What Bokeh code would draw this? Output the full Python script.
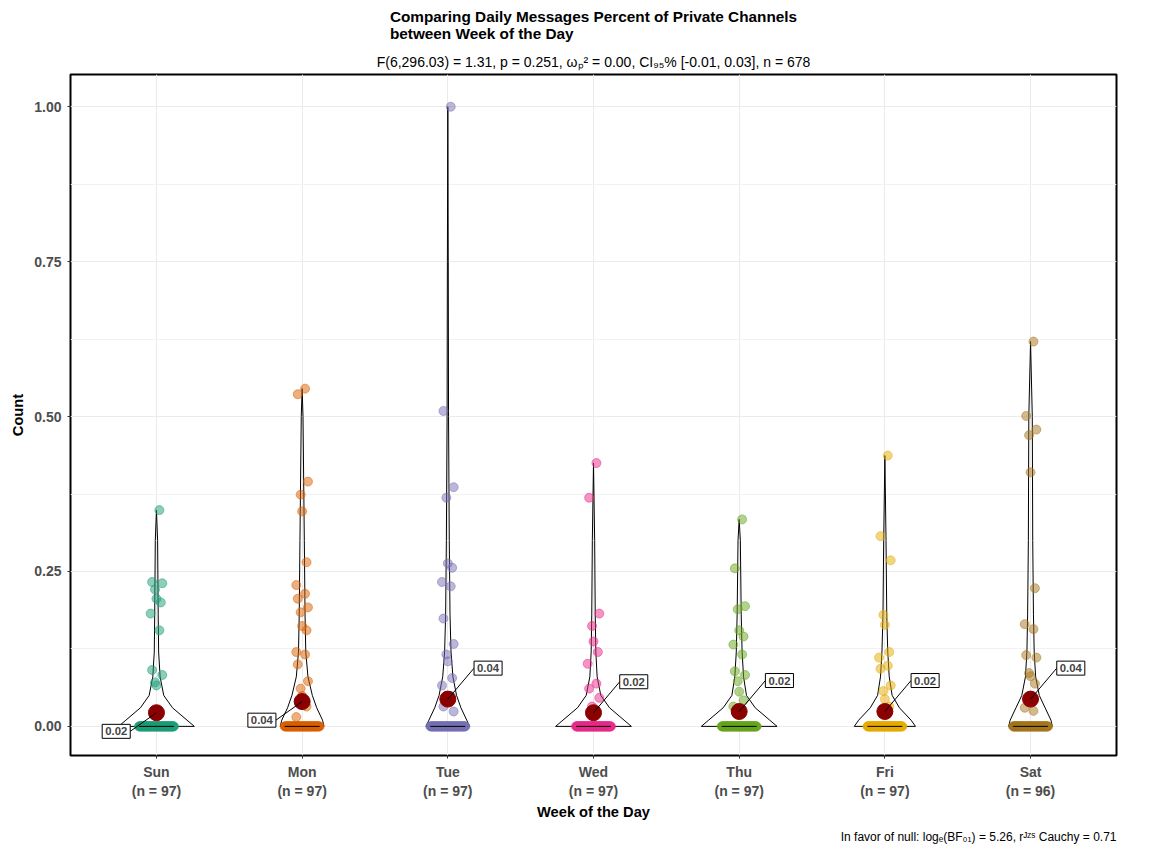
import numpy as np
from bokeh.plotting import figure
from bokeh.models import Title, Label, FixedTicker
from bokeh.embed import file_html
from bokeh.resources import INLINE

days = ['Sun', 'Mon', 'Tue', 'Wed', 'Thu', 'Fri', 'Sat']
counts = [97, 97, 97, 97, 97, 97, 96]
colors = ['#1B9E77', '#D95F02', '#7570B3', '#E7298A', '#66A61E', '#E6AB02', '#A6761D']
means = [0.022, 0.040, 0.044, 0.022, 0.024, 0.024, 0.044]
mean_labels = ['0.02', '0.04', '0.04', '0.02', '0.02', '0.02', '0.04']

# non-zero observations per day (the rest are zeros)
vals = {
    'Sun': [0.349, 0.233, 0.231, 0.221, 0.206, 0.200, 0.182, 0.155, 0.091, 0.083, 0.071, 0.066],
    'Mon': [0.545, 0.536, 0.395, 0.374, 0.347, 0.265, 0.228, 0.214, 0.206, 0.192, 0.184,
            0.162, 0.155, 0.120, 0.116, 0.100, 0.073, 0.061, 0.049, 0.032, 0.015],
    'Tue': [1.000, 0.509, 0.386, 0.369, 0.263, 0.256, 0.233, 0.226, 0.174, 0.133, 0.116,
            0.105, 0.078, 0.066, 0.049, 0.032, 0.024],
    'Wed': [0.425, 0.369, 0.182, 0.162, 0.137, 0.120, 0.101, 0.069, 0.061, 0.046, 0.032],
    'Thu': [0.334, 0.255, 0.194, 0.189, 0.155, 0.145, 0.132, 0.116, 0.089, 0.083, 0.073,
            0.056, 0.042, 0.032],
    'Fri': [0.437, 0.307, 0.268, 0.180, 0.164, 0.120, 0.111, 0.098, 0.093, 0.066, 0.057,
            0.044, 0.032],
    'Sat': [0.621, 0.501, 0.479, 0.470, 0.410, 0.223, 0.165, 0.157, 0.115, 0.111, 0.086,
            0.081, 0.069, 0.030, 0.025],
}

# violin profile: levels and half-widths (in category units) per day
vlevels = [0.0, 0.01, 0.03, 0.05, 0.08, 0.12, 0.18, 0.3, 0.5, 0.75, 1.0]
vwidth = {
    'Sun': [0.26, 0.21, 0.11, 0.05, 0.025, 0.015, 0.012, 0.008, 0, 0, 0],
    'Mon': [0.15, 0.14, 0.10, 0.07, 0.04, 0.025, 0.02, 0.015, 0.006, 0, 0],
    'Tue': [0.15, 0.13, 0.09, 0.06, 0.035, 0.022, 0.015, 0.01, 0.005, 0.003, 0.002],
    'Wed': [0.26, 0.21, 0.11, 0.05, 0.025, 0.016, 0.012, 0.008, 0.004, 0, 0],
    'Thu': [0.26, 0.21, 0.11, 0.05, 0.03, 0.02, 0.014, 0.008, 0, 0, 0],
    'Fri': [0.21, 0.18, 0.10, 0.05, 0.03, 0.02, 0.013, 0.008, 0.004, 0, 0],
    'Sat': [0.15, 0.14, 0.10, 0.06, 0.035, 0.025, 0.02, 0.015, 0.012, 0.004, 0],
}

FONT = 'Liberation Sans'

p = figure(width=1136, height=848, x_range=(0.41, 7.59), y_range=(-0.047, 1.052),
           output_backend='svg', toolbar_location=None,
           background_fill_color='white', border_fill_color='white',
           min_border_left=70, min_border_right=20, min_border_bottom=10)
p.title = None
p.outline_line_color = 'black'
p.outline_line_width = 2

for i, d in enumerate(days):
    x0 = i + 1
    top = max(vals[d])
    lv = [l for l in vlevels if l < top] + [top]
    w = vwidth[d][:len(lv) - 1] + [0.0]
    xs = [x0 - a for a in w] + [x0 + a for a in w[::-1]]
    ys = lv + lv[::-1]
    p.patch(xs, ys, fill_color=None, line_color='black', line_width=1)
    nz = counts[i] - len(vals[d])
    jz = np.linspace(-0.12, 0.12, nz)
    jv = np.tile([0.02, -0.03, 0.04, -0.01, 0.0, 0.03, -0.04], 5)[:len(vals[d])]
    px = list(x0 + jz) + list(x0 + jv)
    py = [0.0] * nz + vals[d]
    p.scatter(px, py, size=9, fill_color=colors[i], line_color=colors[i], alpha=0.5)
    p.segment(x0 - 0.12, 0, x0 + 0.12, 0, line_color='black', line_width=1)
    p.scatter([x0], [means[i]], size=16, color='#8B0000')
    if i < 2:
        lx, ly, dx = x0 - 0.18, means[i] - 0.03, 'right'
    else:
        lx, ly, dx = x0 + 0.18, means[i] + 0.05, 'left'
    p.segment([x0], [means[i]], [lx], [ly], line_color='black', line_width=1)
    p.add_layout(Label(x=lx, y=ly, text=mean_labels[i], text_font=FONT,
                       text_font_size='8.5pt', text_font_style='bold', text_align=dx,
                       text_baseline='middle', background_fill_color='white',
                       border_line_color='black', border_line_width=1, padding=3))

p.xaxis.ticker = FixedTicker(ticks=list(range(1, 8)))
p.xaxis.major_label_overrides = {i + 1: f'{d}\n(n = {n})' for i, (d, n) in enumerate(zip(days, counts))}
p.yaxis.ticker = FixedTicker(ticks=[0, 0.25, 0.5, 0.75, 1.0],
                             minor_ticks=[0.125, 0.375, 0.625, 0.875])
p.yaxis.major_label_overrides = {0: '0.00', 0.25: '0.25', 0.5: '0.50', 0.75: '0.75', 1.0: '1.00'}
p.xaxis.axis_label = 'Week of the Day'
p.yaxis.axis_label = 'Count'
for ax in (p.xaxis, p.yaxis):
    ax.axis_line_color = None
    ax.minor_tick_line_color = None
    ax.major_tick_line_color = '#333333'
    ax.major_tick_out = 3
    ax.major_tick_in = 0
    ax.major_label_text_font = FONT
    ax.major_label_text_font_size = '10.5pt'
    ax.major_label_text_font_style = 'bold'
    ax.major_label_text_color = '#4D4D4D'
    ax.axis_label_text_font = FONT
    ax.axis_label_text_font_size = '11pt'
    ax.axis_label_text_font_style = 'bold'
    ax.axis_label_text_color = 'black'
p.xaxis.axis_label_standoff = 2
p.grid.grid_line_color = '#EBEBEB'
p.ygrid.minor_grid_line_color = '#F2F2F2'

p.add_layout(Title(text='In favor of null: logₑ(BF₀₁) = 5.26, rᴶᶻˢ Cauchy = 0.71', align='right',
                   text_font=FONT, text_font_size='9pt', text_font_style='normal',
                   text_color='black'), 'below')
p.add_layout(Title(text='F(6,296.03) = 1.31, p = 0.251, ωₚ² = 0.00, CI₉₅% [-0.01, 0.03], n = 678',
                   align='center', text_font=FONT, text_font_size='10.5pt',
                   text_font_style='normal', text_color='black'), 'above')
p.add_layout(Title(text='Comparing Daily Messages Percent of Private Channels\nbetween Week of the Day',
                   align='center', text_font=FONT, text_font_size='11.5pt',
                   text_font_style='bold', text_color='black', text_line_height=1.0), 'above')

open('out.html', 'w').write(file_html(p, INLINE))
